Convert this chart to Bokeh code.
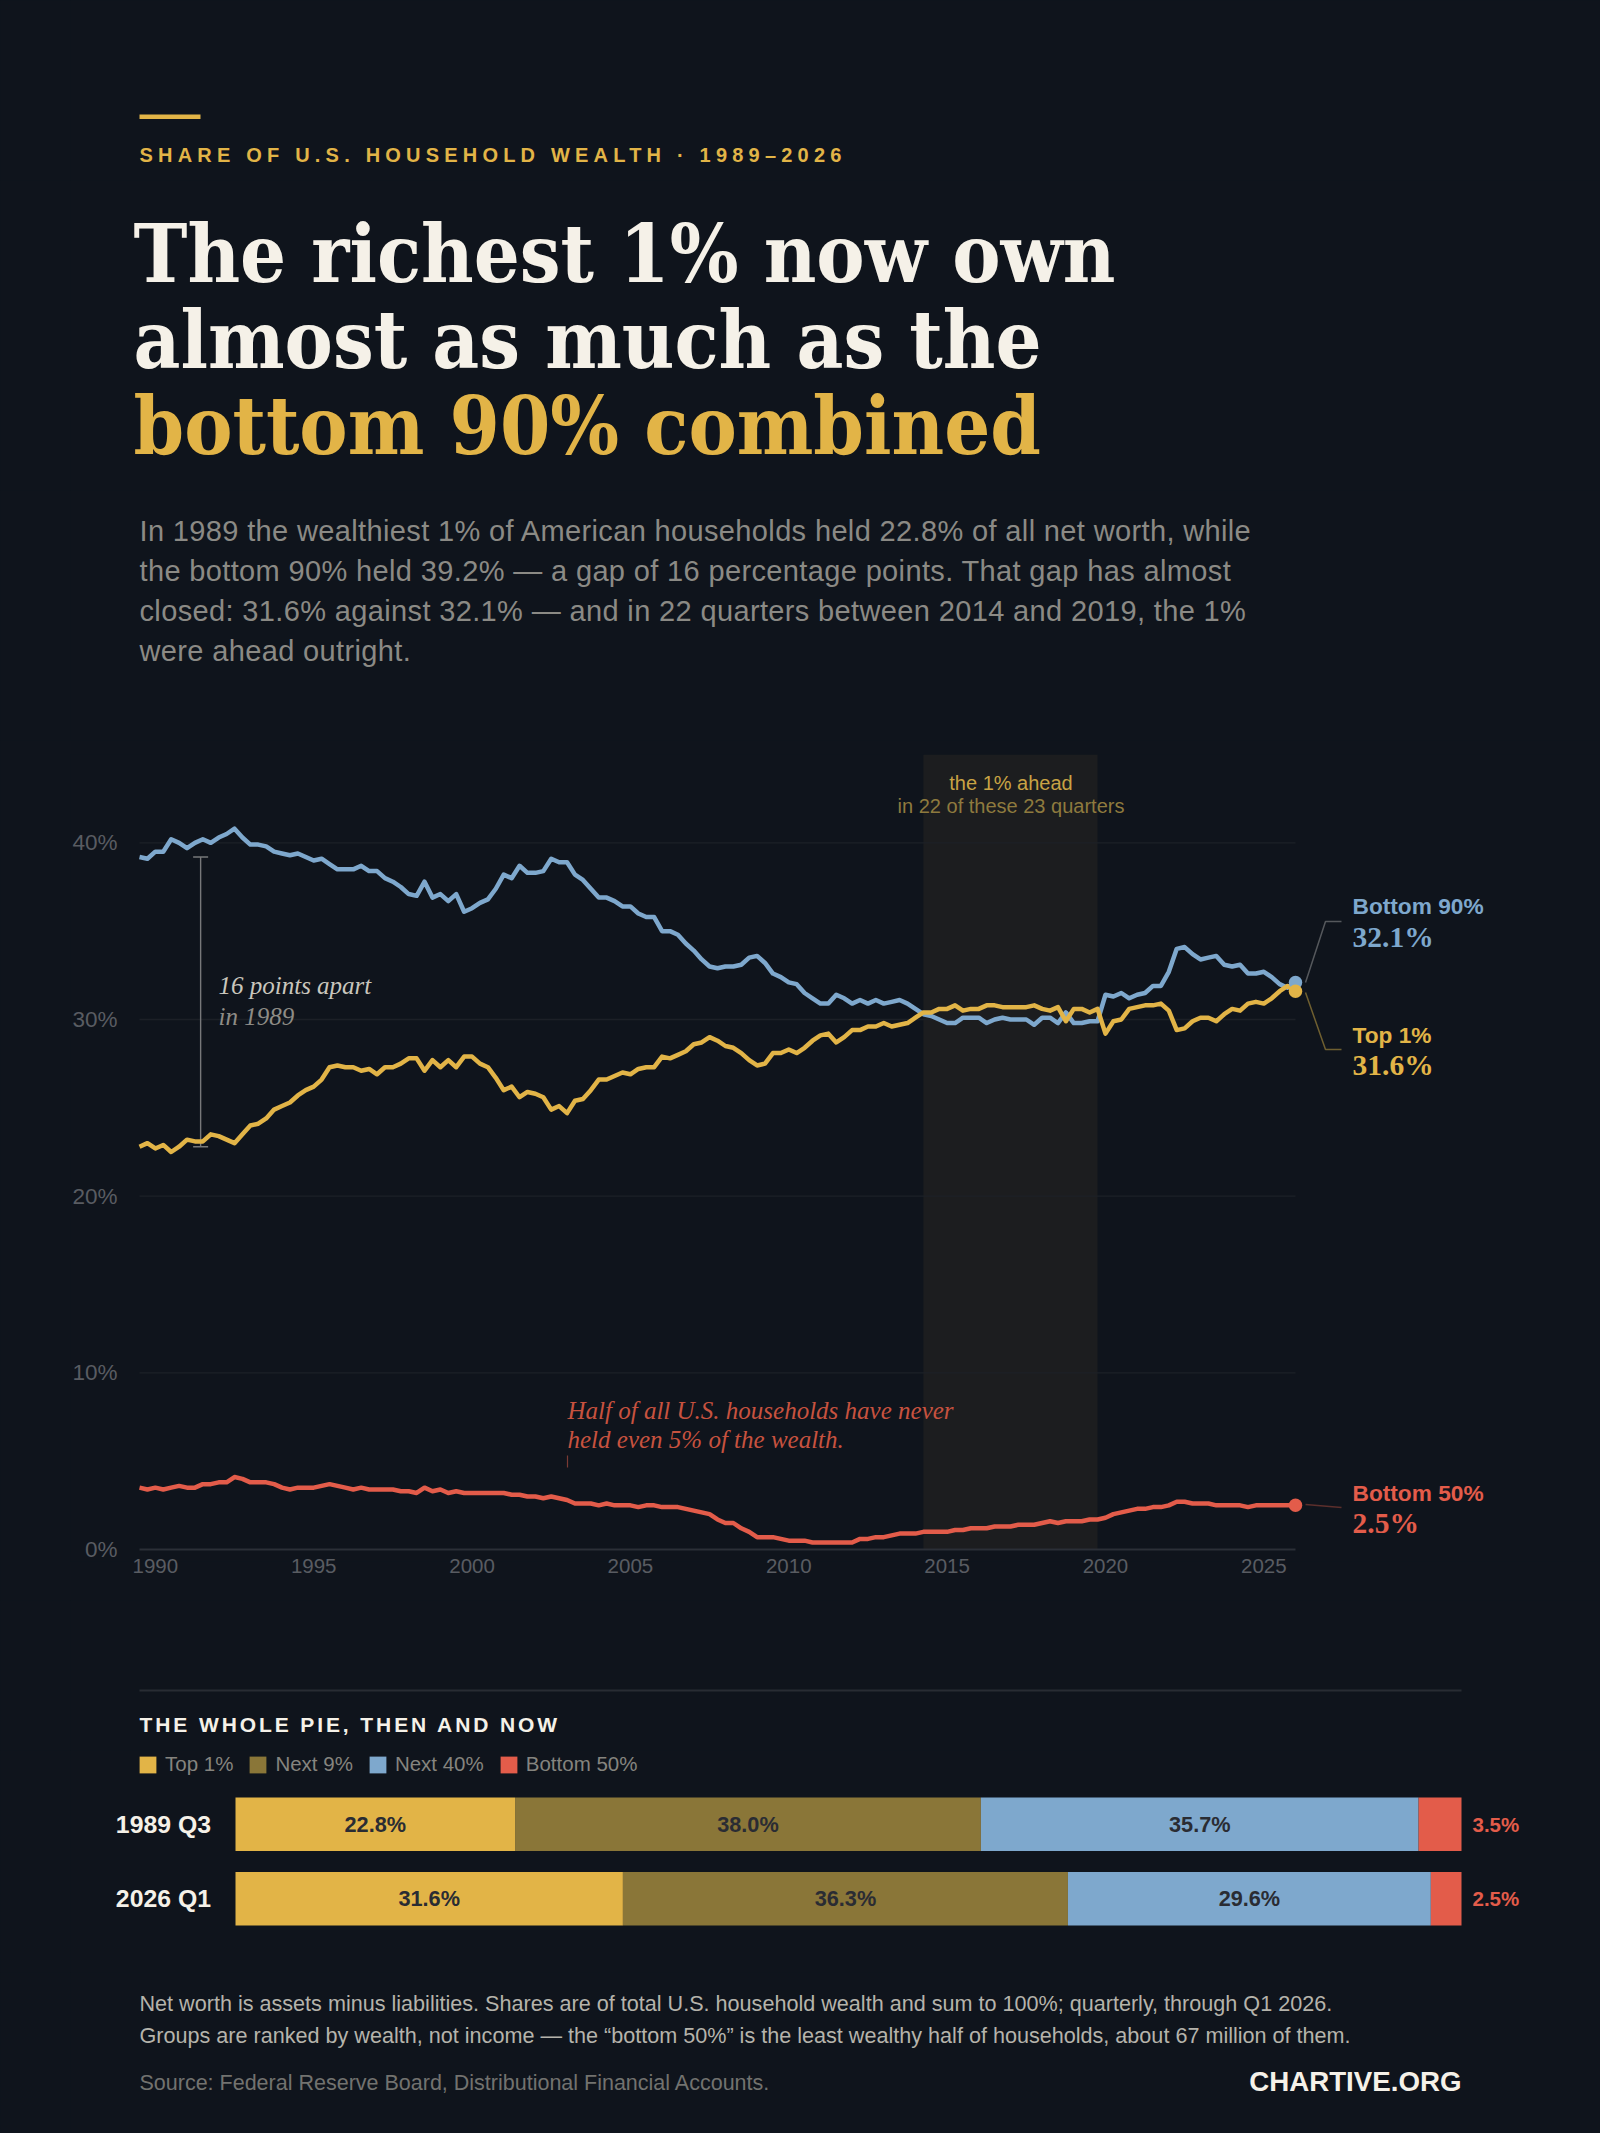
from bokeh.plotting import figure
from bokeh.layouts import column
from bokeh.core.properties import value
from bokeh.models import (Label, Range1d, FixedTicker, PrintfTickFormatter, Legend, LegendItem,
                          FactorRange, ColumnDataSource)
from bokeh.embed import file_html
from bokeh.resources import INLINE

START_YEAR = 1989.5
QUARTER = 0.25
BOTTOM_90 = [39.2,39.1,39.5,39.5,40.2,40.0,39.7,40.0,40.2,40.0,40.3,40.5,40.8,40.3,39.9,39.9,39.8,39.5,39.4,39.3,
 39.4,39.2,39.0,39.1,38.8,38.5,38.5,38.5,38.7,38.4,38.4,38.0,37.8,37.5,37.1,37.0,37.8,36.9,37.1,36.7,
 37.1,36.1,36.3,36.6,36.8,37.4,38.2,38.0,38.7,38.3,38.3,38.4,39.1,38.9,38.9,38.2,37.9,37.4,36.9,36.9,
 36.7,36.4,36.4,36.0,35.8,35.8,35.0,35.0,34.8,34.3,33.9,33.4,33.0,32.9,33.0,33.0,33.1,33.5,33.6,33.2,
 32.6,32.4,32.1,32.0,31.5,31.2,30.9,30.9,31.4,31.2,30.9,31.1,30.9,31.1,30.9,31.0,31.1,30.9,30.6,30.3,
 30.2,30.0,29.8,29.8,30.1,30.1,30.1,29.8,30.0,30.1,30.0,30.0,30.0,29.7,30.1,30.1,29.8,30.4,29.8,29.8,
 29.9,29.9,31.4,31.3,31.5,31.2,31.4,31.5,31.9,31.9,32.7,34.0,34.1,33.7,33.4,33.5,33.6,33.1,33.0,33.1,
 32.6,32.6,32.7,32.4,32.0,31.8,32.1]
TOP_1 = [22.8,23.0,22.7,22.9,22.5,22.8,23.2,23.1,23.1,23.5,23.4,23.2,23.0,23.5,24.0,24.1,24.4,24.9,25.1,25.3,
 25.7,26.0,26.2,26.6,27.3,27.4,27.3,27.3,27.1,27.2,26.9,27.3,27.3,27.5,27.8,27.8,27.1,27.7,27.3,27.7,
 27.3,27.9,27.9,27.5,27.3,26.7,26.0,26.2,25.6,25.9,25.8,25.6,24.9,25.1,24.7,25.4,25.5,26.0,26.6,26.6,
 26.8,27.0,26.9,27.2,27.3,27.3,27.9,27.8,28.0,28.2,28.6,28.7,29.0,28.8,28.5,28.4,28.1,27.7,27.4,27.5,
 28.1,28.1,28.3,28.1,28.4,28.8,29.1,29.2,28.7,29.0,29.4,29.4,29.6,29.6,29.8,29.6,29.7,29.8,30.1,30.4,
 30.4,30.6,30.6,30.8,30.5,30.6,30.6,30.8,30.8,30.7,30.7,30.7,30.7,30.8,30.6,30.5,30.7,29.9,30.6,30.6,
 30.4,30.6,29.2,29.9,30.0,30.6,30.7,30.8,30.8,30.9,30.5,29.4,29.5,29.9,30.1,30.1,29.9,30.3,30.6,30.5,
 30.9,31.0,30.9,31.2,31.6,31.9,31.6]
BOTTOM_50 = [3.5,3.4,3.5,3.4,3.5,3.6,3.5,3.5,3.7,3.7,3.8,3.8,4.1,4.0,3.8,3.8,3.8,3.7,3.5,3.4,
 3.5,3.5,3.5,3.6,3.7,3.6,3.5,3.4,3.5,3.4,3.4,3.4,3.4,3.3,3.3,3.2,3.5,3.3,3.4,3.2,
 3.3,3.2,3.2,3.2,3.2,3.2,3.2,3.1,3.1,3.0,3.0,2.9,3.0,2.9,2.8,2.6,2.6,2.6,2.5,2.6,
 2.5,2.5,2.5,2.4,2.5,2.5,2.4,2.4,2.4,2.3,2.2,2.1,2.0,1.7,1.5,1.5,1.2,1.0,0.7,0.7,
 0.7,0.6,0.5,0.5,0.5,0.4,0.4,0.4,0.4,0.4,0.4,0.6,0.6,0.7,0.7,0.8,0.9,0.9,0.9,1.0,
 1.0,1.0,1.0,1.1,1.1,1.2,1.2,1.2,1.3,1.3,1.3,1.4,1.4,1.4,1.5,1.6,1.5,1.6,1.6,1.6,
 1.7,1.7,1.8,2.0,2.1,2.2,2.3,2.3,2.4,2.4,2.5,2.7,2.7,2.6,2.6,2.6,2.5,2.5,2.5,2.5,
 2.4,2.5,2.5,2.5,2.5,2.5,2.5]
YEARS = [START_YEAR + QUARTER * i for i in range(len(TOP_1))]
AHEAD_SPAN = (2014.25, 2019.75)
GAP_1989 = (22.8, 39.2)
GAP_YEAR = 1991.43
X_TICKS = [1990, 1995, 2000, 2005, 2010, 2015, 2020, 2025]
Y_TICKS = [0, 10, 20, 30, 40]

PERIODS = ["1989 Q3", "2026 Q1"]
GROUPS = ["Top 1%", "Next 9%", "Next 40%", "Bottom 50%"]
SHARE_TOP1 = [22.8, 31.6]
SHARE_NEXT9 = [38.0, 36.3]
SHARE_NEXT40 = [35.7, 29.6]
SHARE_BOT50 = [3.5, 2.5]

BG = "#0f141c"
GOLD = "#e2b447"
DGOLD = "#8a7638"
BLUE = "#7ea8cd"
RED = "#e35c4a"
IVORY = "#f5f1e8"
SANS = "Liberation Sans"
SERIF = "Liberation Serif"
HEAD = "DejaVu Serif Condensed"
W = 1600
FRAME_LEFT = 70


def page_fig(top, bottom, spacing=None):
    """text-only figure whose data coordinates are page pixels"""
    f = figure(width=W, height=bottom - top, x_range=Range1d(FRAME_LEFT, W), y_range=Range1d(bottom, top),
               x_axis_type=None, y_axis_type=None, toolbar_location=None, output_backend="svg",
               min_border=0, min_border_left=FRAME_LEFT, background_fill_color=BG, border_fill_color=BG,
               outline_line_color=None)
    f.grid.visible = False
    if spacing:
        f.stylesheets = [":host{letter-spacing:%spx;}" % spacing]
    return f


def txt(f, x, y, s, size, color, font=SANS, style="normal", align="left"):
    f.add_layout(Label(x=x, y=y, y_offset=0.33 * size, text=s, text_font=font, text_font_style=style,
                       text_font_size=f"{size}px", text_color=color, text_align=align,
                       text_baseline="alphabetic"))


# ---------- header ----------
top = page_fig(0, 180, spacing=5.2)
top.quad(left=[139], right=[200], top=[114], bottom=[118.5], color=GOLD, line_color=None)
txt(top, 139, 161, "SHARE OF U.S. HOUSEHOLD WEALTH · 1989–2026", 20, GOLD, style="bold")

head = page_fig(180, 490)
txt(head, 133, 280, "The richest 1% now own", 80.5, IVORY, font=HEAD, style="bold")
txt(head, 133, 366, "almost as much as the", 80.5, IVORY, font=HEAD, style="bold")
txt(head, 133, 452, "bottom 90% combined", 80.5, GOLD, font=HEAD, style="bold")

para = page_fig(490, 740, spacing=0.36)
PARA = ["In 1989 the wealthiest 1% of American households held 22.8% of all net worth, while",
        "the bottom 90% held 39.2% — a gap of 16 percentage points. That gap has almost",
        "closed: 31.6% against 32.1% — and in 22 quarters between 2014 and 2019, the 1%",
        "were ahead outright."]
for i, line in enumerate(PARA):
    txt(para, 139, 540 + 40 * i, line, 29, "#8b8a85")

# ---------- main chart ----------
LEFT = 139
PX_YEAR = 1156 / 36.5
PX_PCT = 795 / 45
BELOW = 12  # px of frame kept under the 0% line so the 0% tick label is not clipped
chart = figure(width=W, height=860,
               x_range=Range1d(START_YEAR - (LEFT - FRAME_LEFT) / PX_YEAR, START_YEAR + (W - LEFT) / PX_YEAR),
               y_range=Range1d(-BELOW / PX_PCT, 45), toolbar_location=None, output_backend="svg",
               min_border_left=FRAME_LEFT, min_border_right=0, min_border_top=14, min_border_bottom=39,
               background_fill_color=BG, border_fill_color=BG, outline_line_color=None)
chart.grid.visible = False


def X(px):
    return START_YEAR + (px - LEFT) / PX_YEAR


def Y(py):
    return (1549 - py) / PX_PCT


chart.quad(left=[AHEAD_SPAN[0]], right=[AHEAD_SPAN[1]], bottom=[0], top=[45], color="#1c1d1f", line_color=None)
end_year = YEARS[-1]
chart.segment(x0=[START_YEAR] * 4, x1=[end_year] * 4, y0=Y_TICKS[1:], y1=Y_TICKS[1:], line_color="#1c2027", line_width=1.4)
chart.segment(x0=[START_YEAR], x1=[end_year], y0=[0], y1=[0], line_color="#2b2f37", line_width=2)

chart.yaxis.fixed_location = START_YEAR
chart.xaxis.ticker = FixedTicker(ticks=X_TICKS)
chart.yaxis.ticker = FixedTicker(ticks=Y_TICKS)
chart.yaxis.formatter = PrintfTickFormatter(format="%d%%")
for ax in (chart.xaxis, chart.yaxis):
    ax.axis_line_color = None
    ax.major_tick_line_color = None
    ax.minor_tick_line_color = None
    ax.major_label_text_font = SANS
    ax.major_label_text_font_size = "20.5px"
    ax.major_label_text_color = "#595c62"
chart.yaxis.major_label_text_font_size = "22.5px"
chart.yaxis.major_label_standoff = 16
chart.xaxis.major_label_standoff = -9

bracket = "#77787a"
chart.segment(x0=[GAP_YEAR], x1=[GAP_YEAR], y0=[GAP_1989[0]], y1=[GAP_1989[1]], line_color=bracket, line_width=1.4)
cap = 7.5 / PX_YEAR
chart.segment(x0=[GAP_YEAR - cap] * 2, x1=[GAP_YEAR + cap] * 2, y0=list(GAP_1989), y1=list(GAP_1989),
              line_color=bracket, line_width=1.4)

for series, col in ((BOTTOM_50, RED), (BOTTOM_90, BLUE), (TOP_1, GOLD)):
    chart.line(YEARS, series, line_color=col, line_width=4.5, line_join="round")
for series, col in ((BOTTOM_50, RED), (BOTTOM_90, BLUE), (TOP_1, GOLD)):
    chart.scatter([YEARS[-1]], [series[-1]], size=13.5, color=col, line_color=None)

chart.line([X(1305), X(1325), X(1341)], [Y(982), Y(921), Y(921)], line_color="#55585c", line_width=1.5)
chart.line([X(1305), X(1325), X(1341)], [Y(992), Y(1049), Y(1049)], line_color="#6f5f30", line_width=1.5)
chart.line([X(1305), X(1341)], [Y(1504), Y(1507)], line_color="#5c2f2c", line_width=1.5)
chart.line([X(567), X(567)], [Y(1455), Y(1467)], line_color="#7a3a33", line_width=1.2)


def ctxt(px, py, s, size, color, font=SANS, style="normal", align="left"):
    txt(chart, X(px), Y(py), s, size, color, font=font, style=style, align=align)


ctxt(1010.5, 789, "the 1% ahead", 20, "#c9a344", align="center")
ctxt(1010.5, 812, "in 22 of these 23 quarters", 20, "#8e7a3e", align="center")
ctxt(218, 993, "16 points apart", 25, "#c9c6bd", font=SERIF, style="italic")
ctxt(218, 1024, "in 1989", 25, "#8e8c86", font=SERIF, style="italic")
ctxt(567, 1418, "Half of all U.S. households have never", 25, "#c7523f", font=SERIF, style="italic")
ctxt(567, 1447, "held even 5% of the wealth.", 25, "#c7523f", font=SERIF, style="italic")
ctxt(1352, 913, "Bottom 90%", 22.7, BLUE, style="bold")
ctxt(1352, 946, "32.1%", 29.5, BLUE, font=SERIF, style="bold")
ctxt(1352, 1042, "Top 1%", 22.7, GOLD, style="bold")
ctxt(1352, 1074, "31.6%", 29.5, GOLD, font=SERIF, style="bold")
ctxt(1352, 1500, "Bottom 50%", 22.7, RED, style="bold")
ctxt(1352, 1532, "2.5%", 29.5, RED, font=SERIF, style="bold")

# ---------- section header ----------
sect = page_fig(1600, 1750, spacing=2.9)
sect.quad(left=[139], right=[1461], top=[1689], bottom=[1691], color="#282c33", line_color=None)
txt(sect, 139, 1731, "THE WHOLE PIE, THEN AND NOW", 21, IVORY, style="bold")

# ---------- stacked bars ----------
PX_SHARE = 1226 / 100
BAR_LEFT = 235
bars = figure(width=W, height=222, y_range=FactorRange(factors=PERIODS[::-1], range_padding=0.49, range_padding_units="absolute"),
              x_range=Range1d(-(BAR_LEFT - FRAME_LEFT) / PX_SHARE, (W - BAR_LEFT) / PX_SHARE), toolbar_location=None,
              output_backend="svg", x_axis_type=None, y_axis_type=None, min_border=0, min_border_left=FRAME_LEFT,
              background_fill_color=BG, border_fill_color=BG, outline_line_color=None)
bars.grid.visible = False
src = ColumnDataSource({"period": PERIODS, GROUPS[0]: SHARE_TOP1, GROUPS[1]: SHARE_NEXT9,
                        GROUPS[2]: SHARE_NEXT40, GROUPS[3]: SHARE_BOT50})
COLS = [GOLD, DGOLD, BLUE, RED]
rs = bars.hbar_stack(GROUPS, y="period", height=0.718, color=COLS, source=src, line_color=None)
bars.text([0, 0], PERIODS, text=PERIODS, x_offset=-24.5, text_align="right", text_baseline="middle",
          text_font=value(SANS), text_font_style="bold", text_font_size="24.8px", text_color=IVORY)

xs, ys, labs = [], [], []
for a, b, c, d, per in zip(SHARE_TOP1, SHARE_NEXT9, SHARE_NEXT40, SHARE_BOT50, PERIODS):
    for left, val in ((0, a), (a, b), (a + b, c)):
        xs.append(left + val / 2)
        ys.append(per)
        labs.append(f"{val:.1f}%")
bars.text(xs, ys, text=labs, text_align="center", text_baseline="middle", text_font=value(SANS), text_font_style="bold",
          text_font_size="21.7px", text_color="#2a2c33")
bars.text([100, 100], PERIODS, text=[f"{v:.1f}%" for v in SHARE_BOT50], x_offset=11, text_align="left",
          text_baseline="middle", text_font=value(SANS), text_font_style="bold", text_font_size="20.5px", text_color=RED)

legend = Legend(items=[LegendItem(label=g, renderers=[r]) for g, r in zip(GROUPS, rs)],
                orientation="horizontal", location=(137 - FRAME_LEFT, 196), background_fill_alpha=0,
                border_line_color=None, margin=0, padding=0, spacing=14, glyph_width=21, glyph_height=21,
                label_standoff=7, label_text_font=SANS, label_text_font_size="20.5px", label_text_color="#85847f")
bars.add_layout(legend)

# ---------- footer ----------
foot = page_fig(1972, 2133)
txt(foot, 139, 2010, "Net worth is assets minus liabilities. Shares are of total U.S. household wealth and sum to 100%; quarterly, through Q1 2026.", 21.6, "#b5b3ab")
txt(foot, 139, 2042, "Groups are ranked by wealth, not income — the “bottom 50%” is the least wealthy half of households, about 67 million of them.", 21.6, "#b5b3ab")
txt(foot, 139, 2090, "Source: Federal Reserve Board, Distributional Financial Accounts.", 21.5, "#72726f")
txt(foot, 1461, 2090, "CHARTIVE.ORG", 27.7, IVORY, style="bold", align="right")

page = column(top, head, para, chart, sect, bars, foot, spacing=0)
html = file_html(page, INLINE)
html = html.replace("<head>", "<head><style>html,body{background:%s;}</style>" % BG, 1)
open("out.html", "w").write(html)
